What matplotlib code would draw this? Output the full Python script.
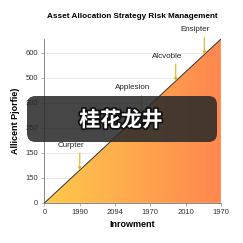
import numpy as np
import matplotlib
matplotlib.use('Agg')
import matplotlib.pyplot as plt
from matplotlib.patches import Polygon, FancyBboxPatch
from matplotlib.colors import LinearSegmentedColormap
import matplotlib.patheffects as pe

plt.rcParams['font.family'] = ['Liberation Sans', 'DejaVu Sans']

TITLE = 'Asset Allocation Strategy Risk Management'
XLABEL = 'Inrowment'
YLABEL = 'Allicent Pjorfie)'

# axes ticks
x_ticks = [0, 1, 2, 3, 4, 5]
x_labels = ['0', '1990', '2094', '1970', '2010', '1970']
y_ticks = [0, 100, 200, 300, 400, 500, 600]
y_labels = ['0', '150', '150', '250', '300', '500', '600']

# the diagonal series
line_x = [0, 5]
line_y = [0, 655]

# callouts along the line
notes = ['Curpter', 'Applesion', 'Alcvoble', 'Ensipter']
note_x = [1.0, 2.75, 3.72, 4.53]

fig = plt.figure(figsize=(2.43, 2.43), dpi=100)
ax = fig.add_axes([0.183, 0.165, 0.726, 0.675])
ax.set_xlim(0, 5)
ax.set_ylim(0, 656)

# gradient fill under the line
cmap = LinearSegmentedColormap.from_list('yo', ['#FECA4B', '#FF874F'])
grad = np.linspace(0, 1, 256).reshape(1, -1)
im = ax.imshow(grad, cmap=cmap, aspect='auto', extent=[0, 5, 0, 656],
               origin='lower', zorder=1)
tri = Polygon([[line_x[0], line_y[0]], [line_x[1], line_y[1]], [line_x[1], 0]],
              closed=True, facecolor='none', edgecolor='none')
ax.add_patch(tri)
im.set_clip_path(tri)
ax.plot(line_x, line_y, color='#333333', lw=0.7, zorder=3)

ax.set_xticks(x_ticks)
ax.set_xticklabels(x_labels)
ax.set_yticks(y_ticks)
ax.set_yticklabels(y_labels)
ax.tick_params(labelsize=5.5, colors='#333333', length=2.5, width=0.5, pad=2)
ax.tick_params(axis='both', color='#999999')
ax.grid(axis='y', color='#e8e8e8', lw=0.6, zorder=0)
ax.set_axisbelow(True)
for s in ['top', 'right']:
    ax.spines[s].set_visible(False)
for s in ['left', 'bottom']:
    ax.spines[s].set_color('#888888')
    ax.spines[s].set_linewidth(0.7)

ax.set_title(TITLE, fontsize=5.9, fontweight='bold', pad=15)
ax.set_xlabel(XLABEL, fontsize=6.5, fontweight='bold', labelpad=3)
ax.set_ylabel(YLABEL, fontsize=6.5, fontweight='bold', labelpad=4)

slope = line_y[1] / line_x[1]
for name, x in zip(notes, note_x):
    tip = (x, slope * x)
    ax.annotate('', xy=tip, xytext=(0, 17), textcoords='offset pixels',
                arrowprops=dict(arrowstyle='-|>', color='#E2B21E', lw=0.8,
                                mutation_scale=4, shrinkA=0, shrinkB=0),
                zorder=4, annotation_clip=False)
    ax.annotate(name, xy=tip, xytext=(-9, 25), textcoords='offset pixels',
                ha='center', va='center', fontsize=5.8, color='#222222',
                zorder=4, annotation_clip=False)

# dark overlay banner
box = FancyBboxPatch((27 / 243, 1 - 142 / 243), 190 / 243, 46 / 243,
                     boxstyle='round,pad=0,rounding_size=0.035',
                     transform=fig.transFigure, facecolor='#2a2a2a',
                     edgecolor='none', alpha=0.87, zorder=10)
fig.patches.append(box)
fig.text(121 / 243, 1 - 120 / 243, '桂花龙井', ha='center', va='center',
         fontsize=15, fontweight='bold', color='white',
         family=['Noto Sans CJK SC', 'DejaVu Sans'], zorder=11,
         path_effects=[pe.withStroke(linewidth=2.5, foreground='#111111')])

fig.savefig('out.png', dpi=100)
